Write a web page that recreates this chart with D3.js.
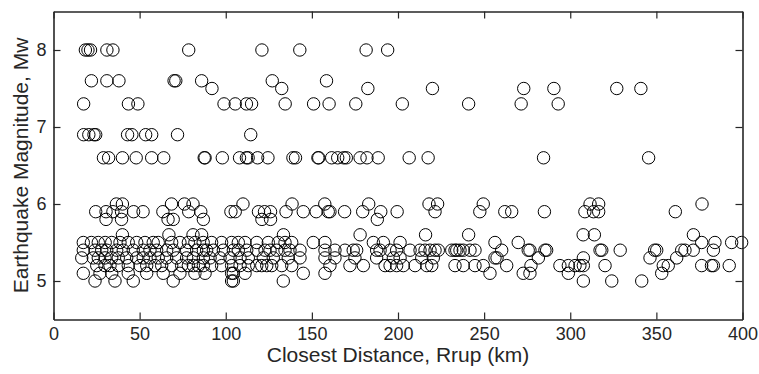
<!DOCTYPE html>
<html>
<head>
<meta charset="utf-8">
<script src="https://cdn.jsdelivr.net/npm/d3@7"></script>
<style>
  body { margin: 0; background: #fff; }
  svg text { font-family: "Liberation Sans", Arial, sans-serif; fill: #262626; }
  .axis path, .axis line { stroke: #262626; }
</style>
</head>
<body>
<div class="chart"></div>
<script>
// magnitude levels (Mw) and the Rrup distances (km) recorded at each level
const magnitudes = [8.0, 7.6, 7.5, 7.3, 6.9, 6.6, 6.0, 5.9, 5.8, 5.6, 5.5, 5.4, 5.3, 5.2, 5.1, 5.0]

const rrupM80 = [18.5, 20, 21.5, 31, 34.5, 78.5, 121, 143, 181.5, 194]
const rrupM76 = [22, 31, 38, 70, 71, 86, 127, 158.5]
const rrupM75 = [92, 132.5, 182.5, 220, 273, 290.5, 327, 341]
const rrupM73 = [17.5, 43.5, 49, 99, 105.5, 112, 115, 134.5, 151, 160, 175.5, 202.5, 241, 271.5, 293]
const rrupM69 = [17.5, 20.5, 23.5, 24.5, 43, 45.5, 53.5, 57, 72, 114.5]
const rrupM66 = [29, 32, 40, 48, 57, 64, 87.5, 88, 98, 108, 112, 113, 118.5, 124.5, 139, 140.5, 153.5, 154,
                 161.5, 165, 168.5, 170, 178, 182, 188.5, 206.5, 217.5, 284.5, 345.5]
const rrupM60 = [36.5, 40, 68.5, 76, 81, 110, 138.5, 157.5, 183, 218, 223, 249.5, 311.5, 316.5, 376.5]
const rrupM59 = [24.5, 30.5, 34.5, 39.5, 46.5, 52, 63.5, 78.5, 85.5, 103, 105.5, 119, 122.5, 126, 135, 145,
                 152.5, 159.5, 160.5, 169, 179.5, 190, 199.5, 221.5, 247.5, 262, 266, 285, 308.5, 313.5, 316.5, 361]
const rrupM58 = [30.5, 39.5, 66.5, 69.5, 87, 121, 126, 188]
const rrupM56 = [40, 67, 81, 86, 133.5, 178, 216, 241, 307.5, 314, 371.5]
const rrupM55 = [17.3, 22, 26, 30, 33.8, 38.6, 43.4, 48.3, 53.1, 57.9, 60.8, 68.6, 73.4, 78.3, 82.1, 86.9, 91.8,
                 97.6, 103.4, 107.3, 111.2, 118, 124.7, 130.5, 134.4, 138.3, 150.8, 157.6, 185.7, 191.5, 201.2,
                 256.3, 269.8, 376.3, 384, 393.7, 399.5]
const rrupM54 = [17.3, 24.1, 28, 30.9, 36.7, 40.5, 46.3, 52.1, 56, 59.9, 65.7, 69.5, 77.3, 83.1, 87, 88.9, 92.8,
                 98.6, 104.4, 107.3, 112.2, 118, 122.8, 125.7, 129.6, 134.4, 137.3, 143.1, 157.6, 163.4, 169.2,
                 174, 176, 187.6, 189.6, 195.4, 199.2, 207, 212.8, 215.7, 218.6, 221.5, 223.4, 231.2, 233.1, 234.1,
                 236, 237.9, 241.8, 244.7, 260.2, 275.6, 276.6, 285.3, 286.3, 317.3, 318.3, 329, 349, 350.2,
                 364.7, 366.6, 371.4, 383.1]
const rrupM53 = [16.4, 23.1, 26, 29.9, 33.8, 37.6, 42.5, 48.3, 52.1, 56, 60.8, 65.7, 71.5, 77.3, 81.2, 87, 90.9,
                 96.7, 102.5, 108.3, 113.1, 121.8, 127.6, 136.3, 143.1, 157.6, 163.4, 175, 187.6, 197.3, 201.2,
                 213.8, 220.5, 256.3, 257.5, 281.5, 307.6, 346.3, 361.8]
const rrupM52 = [25.1, 29.9, 32.8, 37.6, 43.4, 50.2, 54.1, 58.9, 62.8, 68.6, 74.4, 78.3, 81.2, 84.1, 87, 91.8,
                 97.6, 103.4, 108.3, 113.1, 118, 120.9, 123.8, 126.7, 132.5, 138.3, 160.5, 172.1, 179.9, 192.5,
                 195.4, 199.2, 203.1, 209.9, 216.7, 219.6, 233.1, 237.9, 244.7, 249.5, 263.1, 277.2, 294, 298.9,
                 302.8, 305.6, 307.6, 320.2, 354, 356.9, 376.3, 382, 383.1, 392.3]
const rrupM51 = [17.3, 27, 33.8, 43.4, 54.1, 63.7, 73.4, 82.1, 88, 103.4, 104.4, 111.2, 145, 157.6, 253.4,
                 272.7, 276.6, 298.9, 353.1]
const rrupM50 = [24.1, 35.7, 46.3, 69.5, 103.4, 104.4, 133.4, 307.6, 324.1, 341.5]

const rrupByLevel = [rrupM80, rrupM76, rrupM75, rrupM73, rrupM69, rrupM66, rrupM60, rrupM59, rrupM58,
                     rrupM56, rrupM55, rrupM54, rrupM53, rrupM52, rrupM51, rrupM50]

const xTicks = [0, 50, 100, 150, 200, 250, 300, 350, 400]
const yTicks = [5, 6, 7, 8]

// flatten into point records
const points = []
magnitudes.forEach((m, i) => rrupByLevel[i].forEach(r => points.push({rrup: r, mw: m})))

const width = 759, height = 374
const margin = {top: 11.5, right: 16.5, bottom: 54.5, left: 53.5}
const svg = d3.select(".chart").append("svg").attr("width", width).attr("height", height)

const x = d3.scaleLinear().domain([0, 400]).range([margin.left, width - margin.right])
const y = d3.scaleLinear().domain([4.5, 8.5]).range([height - margin.bottom, margin.top])

// points
svg.append("g").selectAll("circle").data(points).enter().append("circle")
   .attr("cx", d => x(d.rrup)).attr("cy", d => y(d.mw)).attr("r", 6.2)
   .attr("fill", "none").attr("stroke", "#000").attr("stroke-width", 1)

// box axes, ticks pointing in
const tick = 7
svg.append("g").attr("class", "axis").attr("transform", `translate(0,${y.range()[0]})`)
   .call(d3.axisBottom(x).tickValues(xTicks).tickSizeInner(-tick).tickSizeOuter(0).tickPadding(8))
svg.append("g").attr("class", "axis").attr("transform", `translate(0,${y.range()[1]})`)
   .call(d3.axisTop(x).tickValues(xTicks).tickSizeInner(-tick).tickSizeOuter(0).tickFormat(""))
svg.append("g").attr("class", "axis").attr("transform", `translate(${x.range()[0]},0)`)
   .call(d3.axisLeft(y).tickValues(yTicks).tickFormat(d3.format("d")).tickSizeInner(-tick).tickSizeOuter(0).tickPadding(7))
svg.append("g").attr("class", "axis").attr("transform", `translate(${x.range()[1]},0)`)
   .call(d3.axisRight(y).tickValues(yTicks).tickSizeInner(-tick).tickSizeOuter(0).tickFormat(""))

svg.selectAll(".axis path").attr("stroke-width", 1.6)
svg.selectAll(".axis line").attr("stroke-width", 1.2)
svg.selectAll(".axis text").attr("font-size", 18).attr("font-family", null).attr("fill", null)

// axis titles
svg.append("text").attr("x", (x.range()[0] + x.range()[1]) / 2).attr("y", 362)
   .attr("text-anchor", "middle").attr("font-size", 21).text("Closest Distance, Rrup (km)")
svg.append("text").attr("transform", `translate(28,${(y.range()[0] + y.range()[1]) / 2}) rotate(-90)`)
   .attr("text-anchor", "middle").attr("font-size", 21).text("Earthquake Magnitude, Mw")
</script>
</body>
</html>
